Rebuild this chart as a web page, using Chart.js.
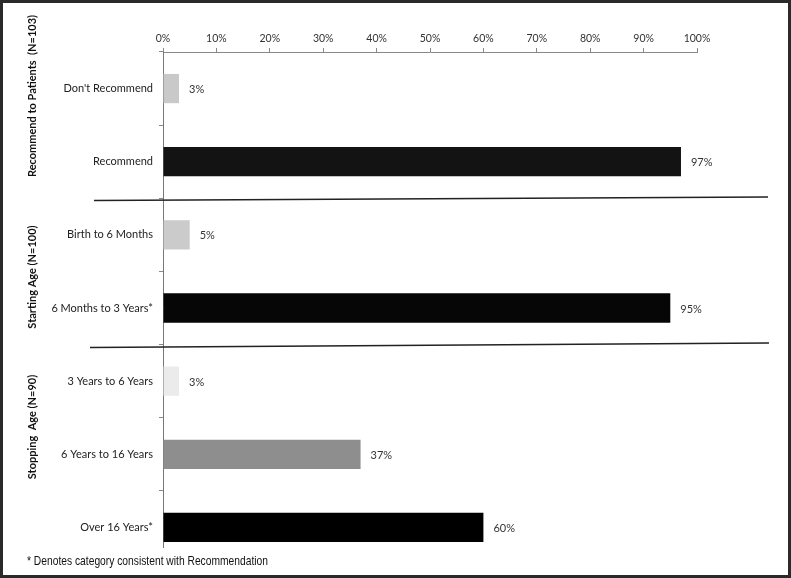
<!DOCTYPE html>
<html>
<head>
<meta charset="utf-8">
<script src="https://cdn.jsdelivr.net/npm/chart.js@4/dist/chart.umd.min.js"></script>
<style>
  html, body { margin: 0; padding: 0; background: #fff; }
  canvas { display: block; }
</style>
</head>
<body>
<canvas id="surveyChart" width="791" height="578"></canvas>
<script>
// categories, top to bottom
const categories = [
  "Don't Recommend", 'Recommend',
  'Birth to 6 Months', '6 Months to 3 Years*',
  '3 Years to 6 Years', '6 Years to 16 Years', 'Over 16 Years*'
];
// percent of respondents
const percents = [3, 97, 5, 95, 3, 37, 60];
const barColors = ['#c9c9c9', '#131313', '#cbcbcb', '#060606', '#ebebeb', '#8e8e8e', '#000000'];
const xTicks = [0, 10, 20, 30, 40, 50, 60, 70, 80, 90, 100];
const groupTitles = ['Recommend to Patients  (N=103)', 'Starting Age (N=100)', 'Stopping  Age (N=90)'];
const footnote = '* Denotes category consistent with Recommendation';

const labelFont = '11px Lato, "Open Sans", sans-serif';

// frame, group titles, separators, value labels and footnote
const extrasPlugin = {
  id: 'extras',
  afterDatasetsDraw(chart) {
    const ctx = chart.ctx;
    ctx.save();

    // value labels at bar ends
    ctx.font = labelFont;
    ctx.fillStyle = '#333';
    ctx.textAlign = 'left';
    ctx.textBaseline = 'middle';
    chart.getDatasetMeta(0).data.forEach((bar, i) => {
      ctx.fillText(percents[i] + '%', bar.x + 10, bar.y + 1);
    });

    // rotated group titles
    ctx.font = 'bold 11px Lato, "Open Sans", sans-serif';
    ctx.fillStyle = '#111';
    ctx.textAlign = 'center';
    const titleY = [96, 277, 427];
    groupTitles.forEach((t, i) => {
      ctx.save();
      ctx.translate(32, titleY[i]);
      ctx.rotate(-Math.PI / 2);
      ctx.fillText(t, 0, 0);
      ctx.restore();
    });

    // hand-drawn separators between groups
    ctx.strokeStyle = '#222';
    ctx.lineWidth = 1.3;
    ctx.beginPath();
    ctx.moveTo(94, 200.5); ctx.lineTo(768, 197);
    ctx.moveTo(90, 347.5); ctx.lineTo(769, 343);
    ctx.stroke();

    // footnote box (white, covers the end of the axis) and text
    ctx.fillStyle = '#fff';
    ctx.fillRect(20, 548, 300, 26);
    ctx.font = '13px "Liberation Sans", Arial, sans-serif';
    ctx.fillStyle = '#111';
    ctx.textAlign = 'left';
    ctx.textBaseline = 'alphabetic';
    const w = ctx.measureText(footnote).width;
    ctx.save();
    ctx.translate(27, 565);
    ctx.scale(241 / w, 1);
    ctx.fillText(footnote, 0, 0);
    ctx.restore();

    // outer frame
    ctx.strokeStyle = '#2a2a2a';
    ctx.lineWidth = 3;
    ctx.strokeRect(1.5, 1.5, 788, 575);
    ctx.restore();
  }
};

new Chart(document.getElementById('surveyChart').getContext('2d'), {
  type: 'bar',
  data: {
    labels: categories,
    datasets: [{
      data: percents,
      backgroundColor: barColors,
      borderWidth: 0,
      barPercentage: 0.4,
      categoryPercentage: 1.0
    }]
  },
  options: {
    indexAxis: 'y',
    responsive: false,
    animation: false,
    devicePixelRatio: 1,
    layout: { padding: { top: 30, right: 94, bottom: 14, left: 0 } },
    plugins: { legend: { display: false }, tooltip: { enabled: false } },
    scales: {
      x: {
        position: 'top',
        min: 0,
        max: 100,
        afterBuildTicks: s => { s.ticks = xTicks.map(v => ({ value: v })); },
        afterFit: s => { s.height = 22; },
        ticks: {
          callback: v => v + '%',
          font: { family: 'Lato', size: 10.5 },
          color: '#333',
          padding: 3,
          maxRotation: 0
        },
        grid: { drawOnChartArea: false, tickLength: 4, color: '#888' },
        border: { display: true, color: '#888' }
      },
      y: {
        afterFit: s => { s.width = 163; },
        ticks: {
          font: { family: 'Lato', size: 11 },
          color: '#222',
          padding: 6
        },
        grid: { drawOnChartArea: false, tickLength: 4, color: '#888' },
        border: { display: true, color: '#777' }
      }
    }
  },
  plugins: [extrasPlugin]
});
</script>
</body>
</html>
